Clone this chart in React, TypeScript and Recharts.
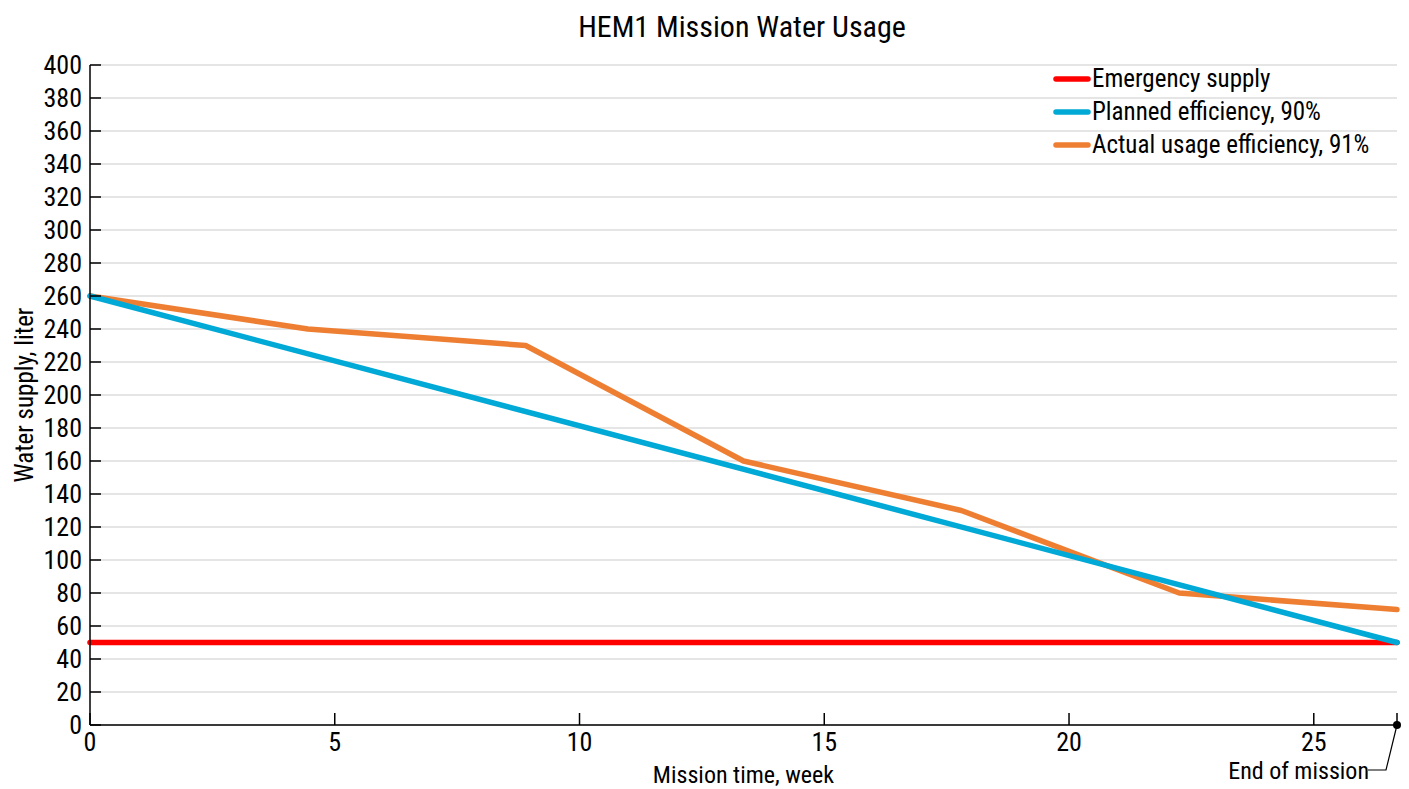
import React from 'react'
import { LineChart, Line, XAxis, YAxis, CartesianGrid, Legend, ReferenceDot } from 'recharts'

const FONT = '"Liberation Sans Narrow", "Arial Narrow", "Roboto Condensed", "Liberation Sans", Arial, sans-serif'

const END_WEEK = 26.7

const emergencySupply = [
  { week: 0, liters: 50 },
  { week: 26.7, liters: 50 },
]
const plannedUsage = [
  { week: 0, liters: 260 },
  { week: 26.7, liters: 50 },
]
const actualUsage = [
  { week: 0, liters: 260 },
  { week: 4.45, liters: 240 },
  { week: 8.9, liters: 230 },
  { week: 13.35, liters: 160 },
  { week: 17.8, liters: 130 },
  { week: 22.25, liters: 80 },
  { week: 26.7, liters: 70 },
]

const xTicks = [0, 5, 10, 15, 20, 25, END_WEEK]
const yTicks = [0, 20, 40, 60, 80, 100, 120, 140, 160, 180, 200, 220, 240, 260, 280, 300, 320, 340, 360, 380, 400]

const legendOrder = ['Emergency supply', 'Planned efficiency, 90%', 'Actual usage efficiency, 91%']

const COLORS = {
  red: '#ff0000',
  blue: '#00a9d6',
  orange: '#ee7f32',
}

const LegendBox = ({ payload }: any) => {
  const items = legendOrder.map(n => payload?.find((p: any) => p.value === n)).filter(Boolean)
  return (
    <div style={{ fontFamily: FONT, textAlign: 'left' }}>
      {items.map((p: any) => (
        <div key={p.value} style={{ display: 'flex', alignItems: 'center', height: 33 }}>
          <svg width={38} height={10} style={{ marginRight: 1 }}>
            <line x1={3} y1={5} x2={35} y2={5} stroke={p.color} strokeWidth={5.5} strokeLinecap="round" />
          </svg>
          <span style={{ fontSize: 25, color: '#000', lineHeight: '33px' }}>{p.value}</span>
        </div>
      ))}
    </div>
  )
}

const EndMarker = (props: any) => {
  const { cx, cy } = props
  return (
    <g>
      <polyline points={`${cx},${cy} ${cx - 11},${cy + 45} ${cx - 29},${cy + 45}`} fill="none" stroke="#000" strokeWidth={1.2} />
      <circle cx={cx} cy={cy} r={4} fill="#000" />
      <text x={cx - 28} y={cy + 54} textAnchor="end" fontFamily={FONT} fontSize={24} fill="#000">End of mission</text>
    </g>
  )
}

export default function App() {
  return (
    <div style={{ position: 'absolute', left: 0, top: 0, width: 1409, height: 789, background: '#fff' }}>
      <div style={{ position: 'absolute', left: 0, top: 9, width: 1484, textAlign: 'center', fontFamily: FONT, fontSize: 30, color: '#000' }}>
        HEM1 Mission Water Usage
      </div>
      <LineChart width={1409} height={789} data={actualUsage} margin={{ top: 65, right: 12, bottom: 34, left: 0 }}
        style={{ fontFamily: FONT }}>
        <CartesianGrid horizontal vertical={false} stroke="#dddddd" strokeWidth={1.5} />
        <XAxis type="number" dataKey="week" domain={[0, END_WEEK]} ticks={xTicks} interval={0} height={30}
          tickFormatter={(v: number) => (v === END_WEEK ? '' : String(v))}
          tickSize={-12} tickMargin={20} axisLine={{ stroke: '#000', strokeWidth: 1.5 }} tickLine={{ stroke: '#000', strokeWidth: 1.5 }}
          tick={{ fontSize: 26, fill: '#000' }}
          label={{ value: 'Mission time, week', position: 'insideBottom', offset: -28, fontSize: 24, fill: '#000' }} />
        <YAxis type="number" domain={[0, 400]} ticks={yTicks} interval={0} width={90}
          tickSize={-11} tickMargin={19} axisLine={{ stroke: '#000', strokeWidth: 1.5 }} tickLine={{ stroke: '#000', strokeWidth: 1.5 }}
          tick={{ fontSize: 26, fill: '#000' }}
          label={{ value: 'Water supply, liter', angle: -90, position: 'insideLeft', offset: 24, fontSize: 25, fill: '#000', style: { textAnchor: 'middle' } }} />
        <Legend layout="horizontal" verticalAlign="middle" align="center" content={<LegendBox />}
          wrapperStyle={{ top: 62, left: 1053, right: 'auto', bottom: 'auto', width: 340 }} />
        <Line data={emergencySupply} dataKey="liters" name="Emergency supply" type="linear" stroke={COLORS.red} strokeWidth={5.5}
          strokeLinecap="round" dot={false} activeDot={false} isAnimationActive={false} />
        <Line data={actualUsage} dataKey="liters" name="Actual usage efficiency, 91%" type="linear" stroke={COLORS.orange} strokeWidth={5.5}
          strokeLinecap="round" strokeLinejoin="round" dot={false} activeDot={false} isAnimationActive={false} />
        <Line data={plannedUsage} dataKey="liters" name="Planned efficiency, 90%" type="linear" stroke={COLORS.blue} strokeWidth={5.5}
          strokeLinecap="round" dot={false} activeDot={false} isAnimationActive={false} />
        <ReferenceDot x={END_WEEK} y={0} r={4} shape={<EndMarker />} />
      </LineChart>
    </div>
  )
}
